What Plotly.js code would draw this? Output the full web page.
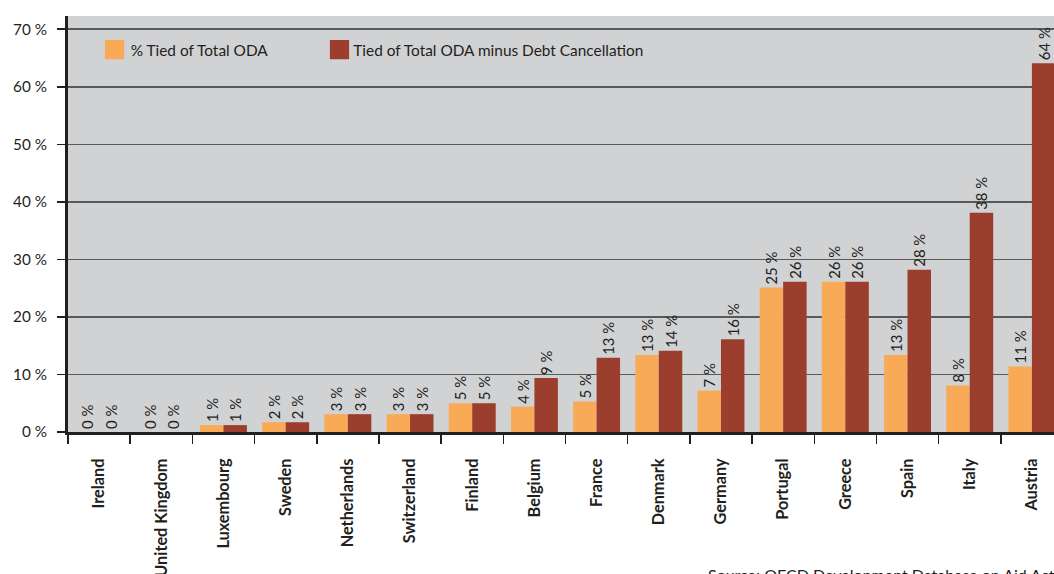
<!DOCTYPE html>
<html>
<head>
<meta charset="utf-8">
<script src="https://cdn.plot.ly/plotly-3.0.1.min.js"></script>
<style>
html, body { margin: 0; padding: 0; overflow: hidden; background: #fff; }
#chart { width: 1070px; height: 600px; }
</style>
</head>
<body>
<div id="chart"></div>
<script>
const categories = ['Ireland', 'United Kingdom', 'Luxembourg', 'Sweden', 'Netherlands', 'Switzerland', 'Finland', 'Belgium', 'France', 'Denmark', 'Germany', 'Portugal', 'Greece', 'Spain', 'Italy', 'Austria'];
const tiedOfTotalODA = [0, 0, 1.2, 1.7, 3.1, 3.1, 5.0, 4.4, 5.3, 13.4, 7.2, 25.1, 26.1, 13.4, 8.1, 11.4];
const tiedMinusDebtCancellation = [0, 0, 1.2, 1.7, 3.1, 3.1, 5.0, 9.4, 12.9, 14.1, 16.1, 26.1, 26.1, 28.2, 38.1, 64.1];
const seriesNames = ['% Tied of Total ODA', 'Tied of Total ODA minus Debt Cancellation'];
const yTickValues = [0, 10, 20, 30, 40, 50, 60, 70];
const yTickLabels = ['0 %', '10 %', '20 %', '30 %', '40 %', '50 %', '60 %', '70 %'];
const sourceText = 'Source: OECD Development Database on Aid Activities';

const FAMILY = 'Lato, "Liberation Sans", sans-serif';
const INK = '#231f20';

// pick font sizes so that text widths match the reference's condensed type
const ctx = document.createElement('canvas').getContext('2d');
function fitSize(text, target, weight) {
  ctx.font = (weight || 'normal') + ' 100px ' + FAMILY;
  return Math.round(100 * target / ctx.measureText(text).width * 10) / 10;
}
const legendSize = fitSize(seriesNames[0], 138);
const yTickSize = fitSize('70 %', 34);
const xTickSize = fitSize('Denmark', 67, 'bold');
const barTextSize = fitSize('64 %', 33);
const sourceSize = fitSize('Source: OECD Development Database on Aid Act', 348);

function f(size, extra) {
  return Object.assign({ family: FAMILY, size: size, color: INK }, extra || {});
}

const common = {
  type: 'bar',
  x: categories,
  texttemplate: '%{y:.0f} %',
  textposition: 'outside',
  textangle: -90,
  cliponaxis: false,
  constraintext: 'none',
  textfont: f(barTextSize),
  hoverinfo: 'x+y'
};

const data = [
  Object.assign({}, common, { name: seriesNames[0], y: tiedOfTotalODA, marker: { color: '#f8aa57' }, legendwidth: 177.6 }),
  Object.assign({}, common, { name: seriesNames[1], y: tiedMinusDebtCancellation, marker: { color: '#9b3e2e' }, legendwidth: 330 })
];

const layout = {
  width: 1070,
  height: 600,
  margin: { l: 68, r: 7, t: 16, b: 167.5 },
  paper_bgcolor: '#ffffff',
  plot_bgcolor: '#d1d2d4',
  barmode: 'group',
  bargap: 0.245,
  bargroupgap: 0,
  font: f(yTickSize),
  showlegend: true,
  legend: {
    orientation: 'h',
    x: 0.0228, xanchor: 'left',
    y: 0.959, yanchor: 'top',
    bgcolor: 'rgba(0,0,0,0)',
    font: f(legendSize),
    traceorder: 'normal'
  },
  xaxis: {
    type: 'category',
    range: [-0.5, 15.5],
    tickangle: -90,
    tickfont: f(xTickSize, { weight: 'bold' }),
    ticks: 'outside',
    ticklen: 9,
    tickwidth: 1.5,
    tickcolor: INK,
    tickson: 'boundaries',
    ticklabelstandoff: 17,
    showline: true,
    linewidth: 3,
    linecolor: INK,
    showgrid: false,
    zeroline: false,
    fixedrange: true
  },
  yaxis: {
    range: [0, 72.3],
    tickmode: 'array',
    tickvals: yTickValues,
    ticktext: yTickLabels,
    tickfont: f(yTickSize),
    ticks: 'outside',
    ticklen: 8,
    tickwidth: 1.5,
    tickcolor: INK,
    ticklabelstandoff: 7,
    showline: true,
    linewidth: 3,
    linecolor: INK,
    showgrid: true,
    gridcolor: '#58595b',
    gridwidth: 1.5,
    zeroline: false,
    fixedrange: true
  },
  annotations: [{
    text: sourceText,
    xref: 'paper', yref: 'paper',
    x: 0.641, y: 0,
    xanchor: 'left', yanchor: 'top',
    yshift: -131,
    showarrow: false,
    font: f(sourceSize)
  }]
};

Plotly.newPlot('chart', data, layout, { displayModeBar: false, staticPlot: true }).then(function (gd) {
  gd.querySelectorAll('.legend .traces').forEach(function (tr, i) {
    const p = tr.querySelector('.legendpoints path');
    if (!p) return;
    const t = p.getAttribute('transform') || '';
    p.setAttribute('transform', t + ' translate(' + (i === 0 ? 3.8 : 6.2) + ',0) scale(1.6)');
  });
});
</script>
</body>
</html>
